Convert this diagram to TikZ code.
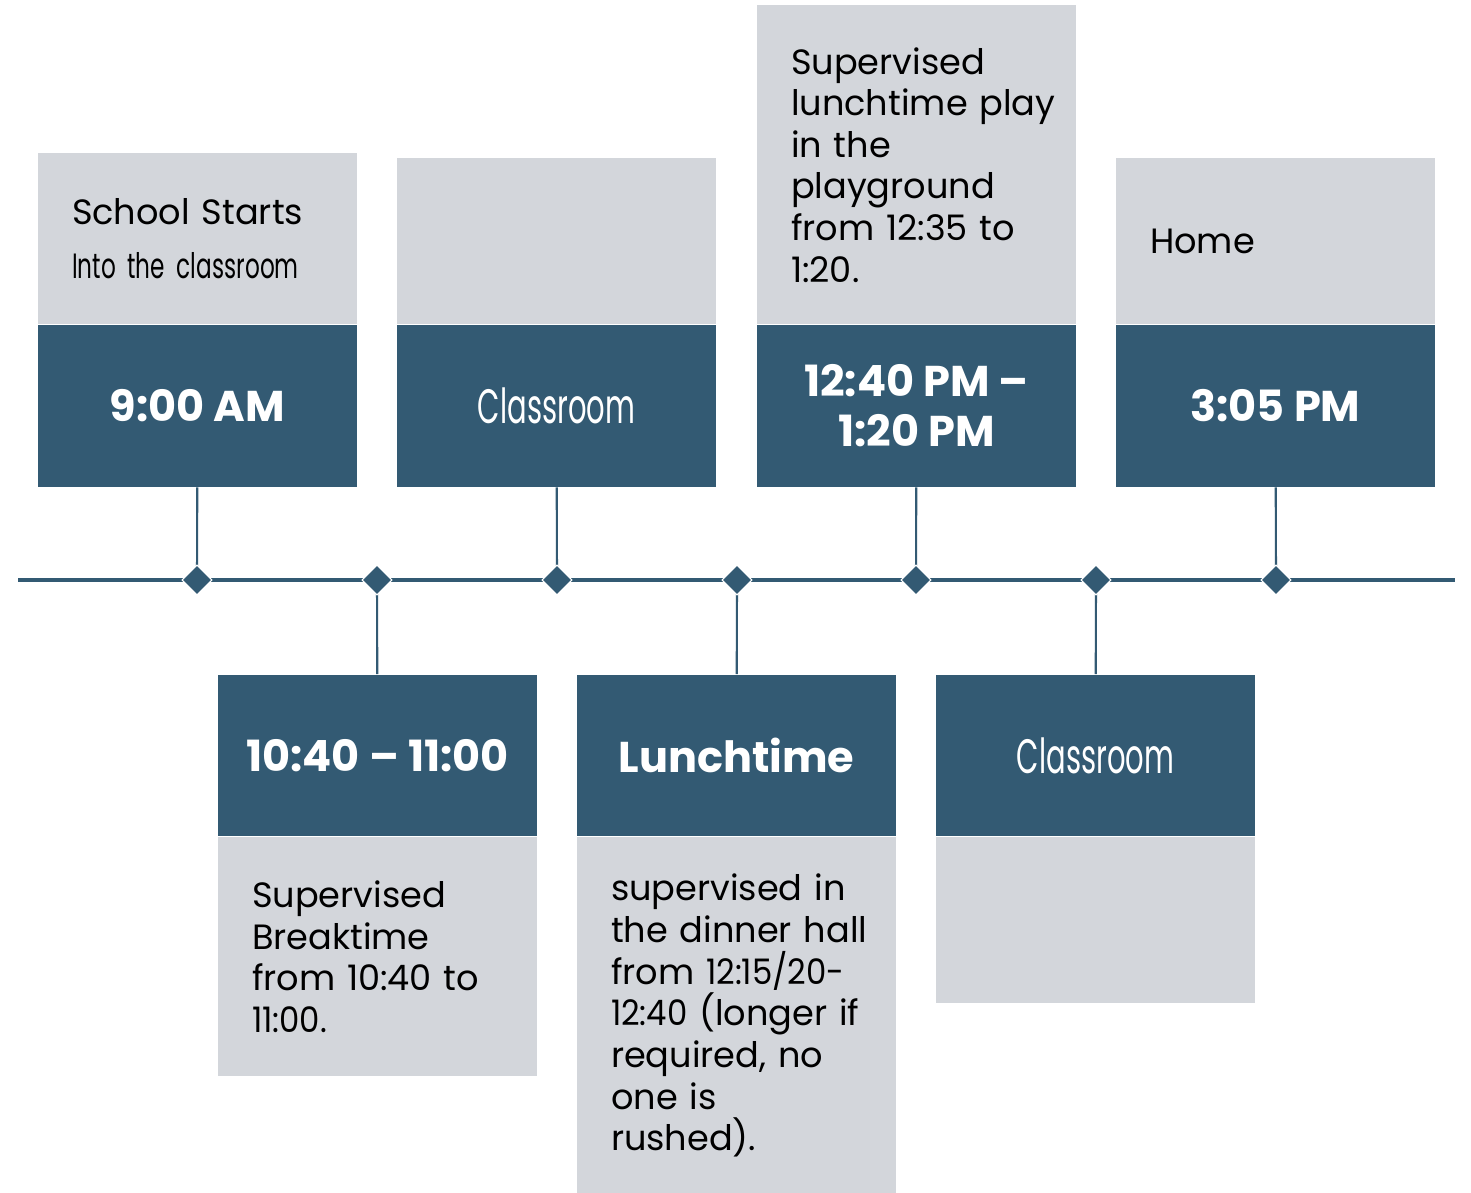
\documentclass[tikz,border=0pt]{standalone}
\usepackage{fontspec}
\setmainfont{Poppins}
\newfontfamily\condfont[FakeStretch=0.66]{Poppins}
\newfontfamily\titrefont[FakeStretch=0.6]{Poppins}
\newfontfamily\chiffres[FakeStretch=0.92]{Poppins}
\usepackage{tikz}
\usetikzlibrary{shapes.geometric}
\definecolor{bleu}{HTML}{335A73}
\definecolor{gris}{HTML}{D3D6DB}
\hyphenpenalty=10000

\begin{document}
\begin{tikzpicture}[x=0.02cm,y=-0.02cm,
    sombre/.style={fill=bleu,text=white,minimum width=6.38cm,minimum height=3.24cm,
      inner sep=0pt,align=center,font=\fontsize{24.5}{28.5}\selectfont\bfseries},
    etroit/.style={font=\fontsize{27.5}{30}\selectfont\titrefont},
    clair/.style={fill=gris,inner xsep=0.68cm,inner ysep=0pt,text width=5.02cm,
      align=left,font=\fontsize{20}{23.7}\selectfont},
    losange/.style={diamond,fill=bleu,draw=white,line width=0.6pt,minimum size=0.6cm,inner sep=0pt},
    tige/.style={draw=bleu,line width=1.2pt}]
  \useasboundingbox (0,0) rectangle (1471,1193);
  % Cases du haut
  \node[sombre] (h1) at (197.5,406) {9:00 AM};
  \node[sombre,etroit] (h2) at (556.5,406) {Classroom};
  \node[sombre] (h3) at (916.5,406) {12:40 PM --\\1:20 PM};
  \node[sombre] (h4) at (1275.5,406) {3:05 PM};
  \node[clair,minimum height=3.42cm,anchor=south] (t1) at (h1.north)
    {School Starts\\[0.25cm]\mbox{\fontsize{20}{23.7}\selectfont\condfont Into the classroom}};
  \node[clair,minimum height=3.32cm,anchor=south] (t2) at (h2.north) {};
  \node[clair,minimum height=6.38cm,anchor=south] (t3) at (h3.north)
    {Supervised\\\mbox{lunchtime play}\\in the\\playground\\\mbox{from 12:35 to}\\1:20.};
  \node[clair,minimum height=3.32cm,anchor=south] (t4) at (h4.north) {Home};
  % Cases du bas
  \node[sombre] (b1) at (377.5,755.5) {10:40 -- 11:00};
  \node[sombre] (b2) at (736.5,755.5) {Lunchtime};
  \node[sombre,etroit] (b3) at (1095.5,755.5) {Classroom};
  \node[clair,minimum height=4.78cm,anchor=north] (c1) at (b1.south)
    {Supervised\\Breaktime\\\mbox{from 10:40 to}\\{\chiffres\fontsize{20}{23.7}\selectfont 11:00.}};
  \node[clair,minimum height=7.14cm,anchor=north] (c2) at (b2.south)
    {\mbox{supervised in}\\\mbox{the dinner hall}\\\mbox{from {\chiffres\fontsize{20}{23.7}\selectfont 12:15/20-}}\\
     \mbox{{\chiffres\fontsize{20}{23.7}\selectfont 12:40} (longer if}\\required, no\\one is\\rushed).};
  \node[clair,minimum height=3.32cm,anchor=north] (c3) at (b3.south) {};
  % Ligne du temps
  \coordinate (gauche) at (18,580);
  \coordinate (droite) at (1455,580);
  \foreach \x [count=\i] in {197,377,557,737,916,1096,1276} {
    \coordinate (p\i) at (\x,580);
  }
  \draw[tige,line width=1.8pt] (gauche) -- (droite);
  \foreach \a/\b in {h1/p1,h2/p3,h3/p5,h4/p7,b1/p2,b2/p4,b3/p6} {
    \draw[tige] (\a) -- (\b);
  }
  \foreach \i in {1,...,7} {
    \node[losange] (d\i) at (p\i) {};
  }
\end{tikzpicture}
\end{document}
